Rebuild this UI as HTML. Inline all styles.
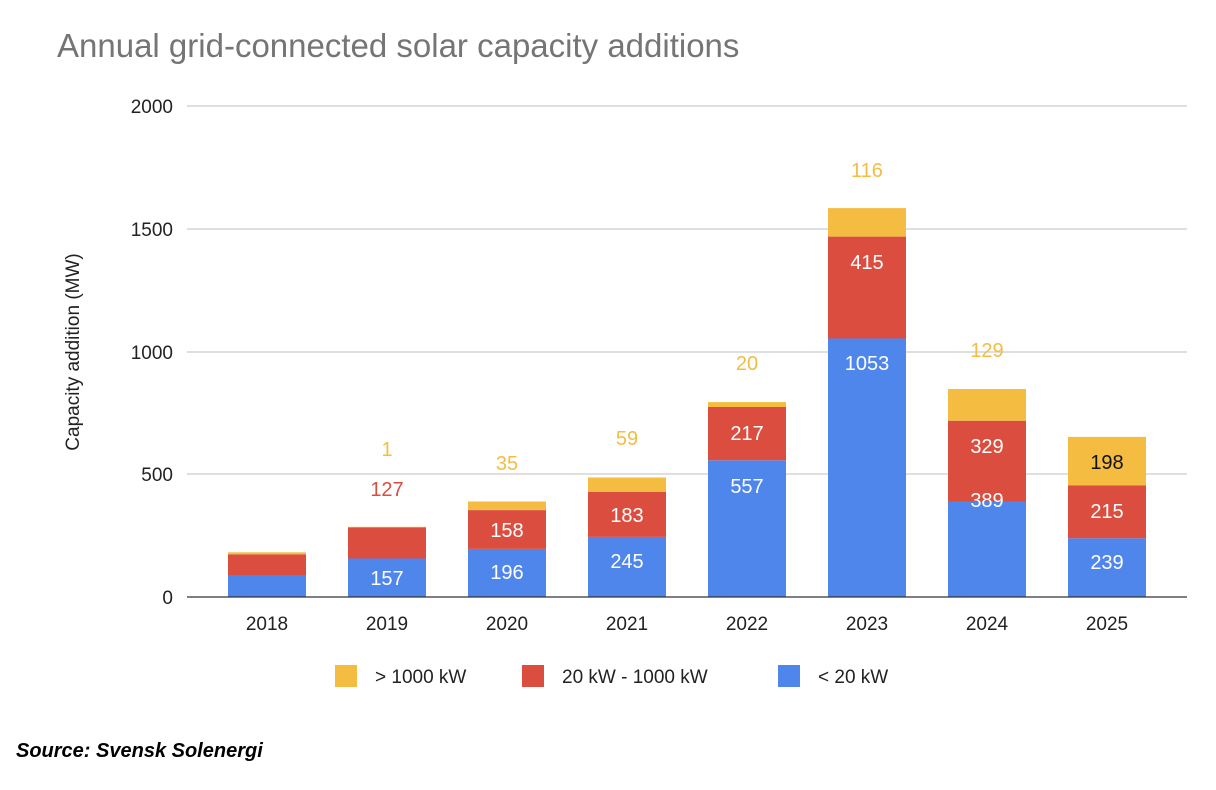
<!DOCTYPE html>
<html><head><meta charset="utf-8"><style>
body{margin:0;background:#fff;}
svg{display:block;font-family:"Liberation Sans",Arial,sans-serif;}
</style></head><body>
<svg width="1216" height="790" viewBox="0 0 1216 790">
<rect width="1216" height="790" fill="#fff"/>
<text x="57" y="57" font-size="33" fill="#757575">Annual grid-connected solar capacity additions</text>
<g stroke="#cccccc" stroke-width="1.3">
<line x1="187" x2="1187" y1="106" y2="106"/>
<line x1="187" x2="1187" y1="229" y2="229"/>
<line x1="187" x2="1187" y1="352" y2="352"/>
<line x1="187" x2="1187" y1="474" y2="474"/>
</g>
<g font-size="19" fill="#222" text-anchor="end">
<text x="173" y="113">2000</text>
<text x="173" y="236">1500</text>
<text x="173" y="359">1000</text>
<text x="173" y="481">500</text>
<text x="173" y="604">0</text>
</g>
<text transform="translate(79,352) rotate(-90)" font-size="19" fill="#222" text-anchor="middle">Capacity addition (MW)</text>
<g>
<rect x="228" y="575.9" width="78" height="21.1" fill="#4f86ec"/><rect x="228" y="554.3" width="78" height="21.6" fill="#db4e3f"/><rect x="228" y="552.3" width="78" height="2" fill="#f4bd42"/>
<rect x="348" y="558.5" width="78" height="38.5" fill="#4f86ec"/><rect x="348" y="527.3" width="78" height="31.2" fill="#db4e3f"/><rect x="348" y="526.8" width="78" height="0.5" fill="#f4bd42"/>
<rect x="468" y="548.9" width="78" height="48.1" fill="#4f86ec"/><rect x="468" y="510.1" width="78" height="38.8" fill="#db4e3f"/><rect x="468" y="501.5" width="78" height="8.6" fill="#f4bd42"/>
<rect x="588" y="536.9" width="78" height="60.1" fill="#4f86ec"/><rect x="588" y="492" width="78" height="44.9" fill="#db4e3f"/><rect x="588" y="477.5" width="78" height="14.5" fill="#f4bd42"/>
<rect x="708" y="460.3" width="78" height="136.7" fill="#4f86ec"/><rect x="708" y="407" width="78" height="53.3" fill="#db4e3f"/><rect x="708" y="402.1" width="78" height="4.9" fill="#f4bd42"/>
<rect x="828" y="338.5" width="78" height="258.5" fill="#4f86ec"/><rect x="828" y="236.6" width="78" height="101.9" fill="#db4e3f"/><rect x="828" y="208.1" width="78" height="28.5" fill="#f4bd42"/>
<rect x="948" y="501.5" width="78" height="95.5" fill="#4f86ec"/><rect x="948" y="420.7" width="78" height="80.8" fill="#db4e3f"/><rect x="948" y="389" width="78" height="31.7" fill="#f4bd42"/>
<rect x="1068" y="538.3" width="78" height="58.7" fill="#4f86ec"/><rect x="1068" y="485.5" width="78" height="52.8" fill="#db4e3f"/><rect x="1068" y="436.9" width="78" height="48.6" fill="#f4bd42"/>
</g>
<g font-size="20" text-anchor="middle" fill="#fff">
<text x="387" y="585">157</text>
<text x="507" y="579">196</text><text x="507" y="537">158</text>
<text x="627" y="568">245</text><text x="627" y="522">183</text>
<text x="747" y="493">557</text><text x="747" y="440">217</text>
<text x="867" y="370">1053</text><text x="867" y="269">415</text>
<text x="987" y="507">389</text><text x="987" y="453">329</text>
<text x="1107" y="569">239</text><text x="1107" y="518">215</text>
<text x="1107" y="469" fill="#111">198</text>
</g>
<g font-size="20" text-anchor="middle" fill="#f4bd42">
<text x="387" y="496" fill="#db4e3f">127</text>
<text x="387" y="456">1</text>
<text x="507" y="470">35</text>
<text x="627" y="445">59</text>
<text x="747" y="370">20</text>
<text x="867" y="177">116</text>
<text x="987" y="357">129</text>
</g>
<line x1="187" x2="1187" y1="597" y2="597" stroke="#333" stroke-width="1.3"/>
<g font-size="19" fill="#222" text-anchor="middle">
<text x="267" y="630">2018</text><text x="387" y="630">2019</text><text x="507" y="630">2020</text><text x="627" y="630">2021</text><text x="747" y="630">2022</text><text x="867" y="630">2023</text><text x="987" y="630">2024</text><text x="1107" y="630">2025</text>
</g>
<g font-size="19" fill="#222">
<rect x="335" y="665" width="22" height="22" fill="#f4bd42"/><text x="375" y="683">&gt; 1000 kW</text>
<rect x="522" y="665" width="22" height="22" fill="#db4e3f"/><text x="562" y="683">20 kW - 1000 kW</text>
<rect x="778" y="665" width="22" height="22" fill="#4f86ec"/><text x="818" y="683">&lt; 20 kW</text>
</g>
<text x="16" y="757" font-size="20" font-weight="bold" font-style="italic" fill="#000">Source: Svensk Solenergi</text>
</svg>
</body></html>
